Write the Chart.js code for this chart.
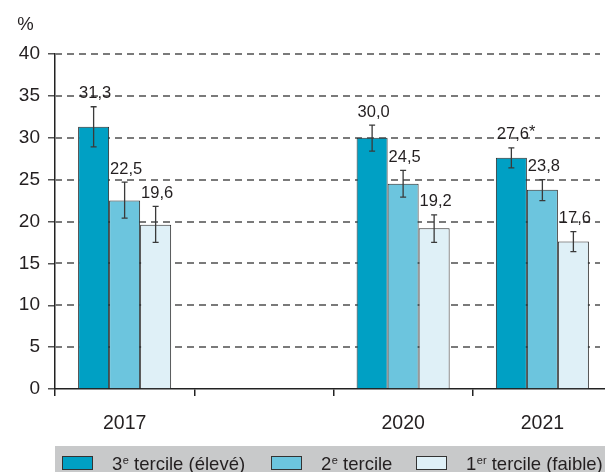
<!DOCTYPE html>
<html>
<head>
<meta charset="utf-8">
<script src="https://cdn.jsdelivr.net/npm/chart.js@4/dist/chart.umd.min.js"></script>
<style>
html, body { margin: 0; padding: 0; background: #fff; overflow: hidden; width: 605px; height: 472px; }
#wrap { width: 605px; height: 472px; overflow: hidden; position: relative; }
canvas { display: block; }
</style>
</head>
<body>
<div id="wrap"><canvas id="c" width="620" height="472"></canvas></div>
<script>
// ---- data ----
const years = ['2017', '', '2020', '2021'];
const tercile3 = [31.3, null, 30.0, 27.6];
const tercile2 = [22.5, null, 24.5, 23.8];
const tercile1 = [19.6, null, 19.2, 17.6];
const tercile3Low = [28.9, null, 28.4, 26.4];
const tercile3High = [33.7, null, 31.5, 28.8];
const tercile2Low = [20.4, null, 22.9, 22.5];
const tercile2High = [24.7, null, 26.1, 25.0];
const tercile1Low = [17.5, null, 17.5, 16.4];
const tercile1High = [21.8, null, 20.8, 18.8];
const tercile3Marks = ['', '', '', '*'];
const tercile2Marks = ['', '', '', ''];
const tercile1Marks = ['', '', '', ''];
const seriesNames = ['3e tercile (élevé)', '2e tercile', '1er tercile (faible)'];
const legendParts = [['3', 'e', ' tercile (élevé)'], ['2', 'e', ' tercile'], ['1', 'er', ' tercile (faible)']];
const unitLabel = '%';
const yMin = 0, yMax = 40, yStep = 5;

const colors = ['#00a0c4', '#6cc5de', '#dff0f7'];
const FONT = '"Liberation Sans", Arial, sans-serif';
const TXT = '#231f20';

const gridPlugin = {
  id: 'dashGrid',
  beforeDatasetsDraw(chart) {
    const ctx = chart.ctx;
    const ys = chart.scales.y;
    const area = chart.chartArea;
    ctx.save();
    ctx.strokeStyle = '#7a7a7a';
    ctx.lineWidth = 2;
    ctx.setLineDash([7, 5]);
    ys.ticks.forEach(t => {
      if (t.value === yMin) return;
      const y = Math.round(ys.getPixelForValue(t.value));
      ctx.beginPath();
      ctx.moveTo(area.left, y);
      ctx.lineTo(600, y);
      ctx.stroke();
    });
    ctx.restore();
  }
};

const errPlugin = {
  id: 'errs',
  afterDatasetsDraw(chart) {
    const ctx = chart.ctx;
    const ys = chart.scales.y;
    chart.data.datasets.forEach((ds, di) => {
      const meta = chart.getDatasetMeta(di);
      meta.data.forEach((bar, i) => {
        const v = ds.data[i];
        if (v == null) return;
        const lo = ds.errLow[i], hi = ds.errHigh[i];
        const yLo = ys.getPixelForValue(lo), yHi = ys.getPixelForValue(hi);
        ctx.save();
        ctx.strokeStyle = '#3a3a3a';
        ctx.lineWidth = 1.3;
        ctx.beginPath();
        ctx.moveTo(bar.x, yLo); ctx.lineTo(bar.x, yHi);
        ctx.moveTo(bar.x - 3, yLo); ctx.lineTo(bar.x + 3, yLo);
        ctx.moveTo(bar.x - 3, yHi); ctx.lineTo(bar.x + 3, yHi);
        ctx.stroke();
        ctx.font = '16.5px ' + FONT;
        ctx.fillStyle = TXT;
        ctx.textBaseline = 'middle';
        ctx.textAlign = 'center';
        const txt = v.toFixed(1).replace('.', ',');
        const lx = bar.x + 1.5, ly = yHi - 13;
        ctx.fillText(txt, lx, ly);
        const mark = ds.marks[i];
        if (mark) {
          const w = ctx.measureText(txt).width;
          ctx.textAlign = 'left';
          ctx.fillText(mark, lx + w / 2, ly - 2);
        }
        ctx.restore();
      });
    });
  }
};

const extrasPlugin = {
  id: 'extras',
  afterDraw(chart) {
    const ctx = chart.ctx;
    ctx.save();
    ctx.font = '18.5px ' + FONT;
    ctx.fillStyle = TXT;
    ctx.textAlign = 'center';
    ctx.textBaseline = 'middle';
    ctx.fillText(unitLabel, 25.5, 24.5);
    ctx.fillStyle = '#c8c9ca';
    ctx.fillRect(55, 446, 570, 26);
    const boxX = [62, 271, 416];
    const textX = [112, 321, 466];
    chart.data.datasets.forEach((ds, di) => {
      ctx.fillStyle = ds.backgroundColor;
      ctx.fillRect(boxX[di], 456, 31, 14);
      ctx.strokeStyle = '#333';
      ctx.lineWidth = 1;
      ctx.strokeRect(boxX[di] + 0.5, 456.5, 30, 13);
      const parts = legendParts[di];
      let x = textX[di];
      ctx.fillStyle = TXT;
      ctx.textAlign = 'left';
      ctx.textBaseline = 'alphabetic';
      ctx.font = '18.5px ' + FONT;
      ctx.fillText(parts[0], x, 470);
      x += ctx.measureText(parts[0]).width;
      ctx.font = '11px ' + FONT;
      ctx.fillText(parts[1], x + 0.5, 464);
      x += ctx.measureText(parts[1]).width + 0.5;
      ctx.font = '18.5px ' + FONT;
      ctx.fillText(parts[2], x, 470);
    });
    ctx.restore();
  }
};

new Chart(document.getElementById('c'), {
  type: 'bar',
  data: {
    labels: years,
    datasets: [
      { label: seriesNames[0], data: tercile3, errLow: tercile3Low, errHigh: tercile3High, marks: tercile3Marks, backgroundColor: colors[0] },
      { label: seriesNames[1], data: tercile2, errLow: tercile2Low, errHigh: tercile2High, marks: tercile2Marks, backgroundColor: colors[1] },
      { label: seriesNames[2], data: tercile1, errLow: tercile1Low, errHigh: tercile1High, marks: tercile1Marks, backgroundColor: colors[2] }
    ].map(d => Object.assign(d, { borderColor: '#2b2b2b', borderWidth: 1, categoryPercentage: 0.668, barPercentage: 1 }))
  },
  options: {
    responsive: false,
    animation: false,
    devicePixelRatio: 1,
    layout: { padding: { top: 54, left: 0, right: 8, bottom: 0 } },
    plugins: { legend: { display: false }, tooltip: { enabled: false } },
    scales: {
      x: {
        grid: { drawOnChartArea: false, drawTicks: true, tickLength: 7, color: '#222', lineWidth: 1.5, offset: true },
        border: { display: true, color: '#222', width: 1.5 },
        ticks: { color: TXT, font: { family: FONT, size: 19.5 }, padding: 16, maxRotation: 0, autoSkip: false },
        afterFit(s) { s.height = 83; }
      },
      y: {
        min: yMin, max: yMax,
        grid: { display: true, drawOnChartArea: false, lineWidth: 1.5, tickLength: 7, drawTicks: true, color: 'rgba(0,0,0,0)', tickColor: '#555' },
        border: { display: true, color: '#222', width: 1.5 },
        ticks: { stepSize: yStep, color: TXT, font: { family: FONT, size: 19 }, padding: 8 },
        afterFit(s) { s.width = 55; }
      }
    }
  },
  plugins: [gridPlugin, errPlugin, extrasPlugin]
});
</script>
</body>
</html>
